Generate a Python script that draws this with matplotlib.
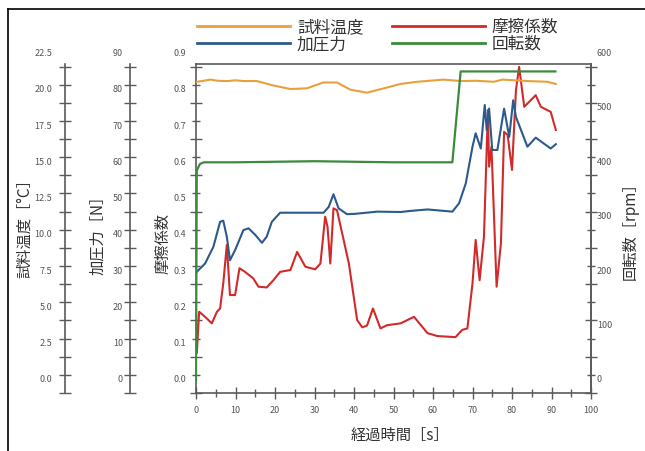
import numpy as np
import matplotlib
matplotlib.use("Agg")
import matplotlib.pyplot as plt
from matplotlib.lines import Line2D
import matplotlib.transforms as mtransforms

plt.rcParams['font.family'] = ['Noto Sans CJK JP', 'DejaVu Sans']

# ---- data ----
temp_t = [0.2, 1.5, 3.6, 5.5, 8, 10, 12, 15.4, 19.5, 23.9, 28.1, 32.2, 35.7, 39.1,
          43.3, 47.6, 51.8, 56, 62.7, 67, 71, 75.4, 77.6, 83.9, 89, 91.1]
temp_c = [20.55, 20.6, 20.7, 20.62, 20.6, 20.65, 20.6, 20.6, 20.3, 20.05, 20.1, 20.5, 20.5, 20.0,
          19.8, 20.1, 20.4, 20.55, 20.7, 20.6, 20.62, 20.55, 20.7, 20.6, 20.55, 20.4]

force_t = [0.2, 2.3, 4.4, 6.1, 6.9, 7.8, 8.6, 9.9, 12, 13.3, 15, 16.7, 17.9, 19.2, 21.3,
           32.3, 33.6, 34.8, 36.1, 38.2, 40.3, 45.9, 51.8, 54.3, 58.6, 64.9, 66.6, 68.3,
           70, 70.8, 72.1, 73.1, 73.6, 74.2, 75, 76.3, 78, 79.3, 80.3, 81, 83.9, 86, 89.8, 91.1]
force_n = [29.8, 32.1, 36.7, 43.6, 43.9, 39.5, 33.0, 35.8, 41.3, 41.8, 40.0, 37.8, 39.5, 43.6, 46.1,
           46.1, 47.7, 51.2, 47.3, 45.7, 45.8, 46.4, 46.3, 46.6, 47.0, 46.4, 48.7, 54.2,
           64.3, 68.0, 63.8, 75.8, 68.9, 74.8, 63.4, 63.4, 74.8, 67.0, 77.1, 72.5, 64.3, 66.8, 63.8, 65.0]

fric_t = [0.0, 0.2, 0.8, 2.3, 4.0, 5.3, 6.1, 6.9, 7.8, 8.6, 9.9, 11, 12.4, 14.5, 15.8, 17.9,
          19.6, 21.3, 23.9, 25.6, 27.7, 30.2, 31.5, 32.7, 33.3, 34.0, 34.8, 35.7, 38.7, 40.8,
          42.1, 43.3, 44.8, 46.7, 48.4, 51.8, 55.2, 58.6, 61.1, 65.7, 67.4, 68.7, 70, 70.8,
          71.8, 72.9, 73.9, 74.2, 74.8, 76.1, 77.2, 78, 78.9, 80, 81, 81.8, 83.1, 86, 87.3,
          89.8, 91.1]
fric_mu = [0.19, 0.074, 0.188, 0.174, 0.156, 0.188, 0.197, 0.266, 0.372, 0.234, 0.234, 0.308,
           0.298, 0.280, 0.257, 0.255, 0.275, 0.298, 0.303, 0.353, 0.312, 0.305, 0.321, 0.450,
           0.422, 0.321, 0.473, 0.468, 0.321, 0.165, 0.145, 0.150, 0.197, 0.142, 0.151, 0.156,
           0.174, 0.129, 0.121, 0.118, 0.138, 0.142, 0.266, 0.386, 0.275, 0.395, 0.744, 0.588,
           0.643, 0.257, 0.377, 0.684, 0.675, 0.579, 0.799, 0.863, 0.753, 0.785, 0.753, 0.739,
           0.689]

rpm_t = [0.0, 0.2, 1.0, 2.0, 10, 30, 50, 64.9, 67.0, 91.0]
rpm_v = [0, 385, 397, 400, 400, 402, 400, 400, 567, 567]

legend_labels = ['試料温度', '加圧力', '摩擦係数', '回転数']
c_temp, c_force, c_fric, c_rpm = '#E8A03C', '#2B5A8C', '#D22A2A', '#3C8A3C'
spine_c = '#5a5a5a'
tick_c = '#555555'

W, H = 645, 451
fig = plt.figure(figsize=(W / 100, H / 100), dpi=100)
ax = fig.add_axes([196 / W, 1 - 393 / H, 395 / W, 329 / H])

# friction scale; other axes share pixels: rpm = mu*666.7, temp = mu*25, force = mu*100
lo, hi = -0.036, 0.871
ax.set_xlim(0, 100)
ax.set_ylim(lo, hi)

ax_t = ax.twinx()
ax_f = ax.twinx()
ax_r = ax.twinx()
ax_t.set_ylim(lo * 25, hi * 25)
ax_f.set_ylim(lo * 100, hi * 100)
ax_r.set_ylim(lo * 600 / 0.9, hi * 600 / 0.9)

ax_t.plot(temp_t, temp_c, color=c_temp, lw=1.5)
ax_f.plot(force_t, force_n, color=c_force, lw=1.5)
ax.plot(fric_t, fric_mu, color=c_fric, lw=1.5)
ax_r.plot(rpm_t, rpm_v, color=c_rpm, lw=1.6)

# x axis
ax.set_xticks(np.arange(0, 101, 10))
ax.set_xticks(np.arange(5, 100, 10), minor=True)
ax.tick_params(axis='x', which='major', direction='inout', length=9, width=1, color=spine_c,
               labelsize=6.5, labelcolor=tick_c, pad=5)
ax.tick_params(axis='x', which='minor', direction='inout', length=6, width=1, color=spine_c)


def setup_y(a, side, base, step, pos=None, equal=False):
    for name, s in a.spines.items():
        s.set_visible(name == side)
    s = a.spines[side]
    if pos is not None:
        s.set_position(('axes', pos))
    a.yaxis.set_ticks_position(side)
    maj = [base + step * k for k in range(0, 19, 2)]
    mnr = [base + step * k for k in range(1, 19, 2)]
    a.set_yticks(maj)
    a.set_yticks(mnr, minor=True)
    a.set_yticklabels([])
    a.tick_params(axis='y', which='major', direction='inout', length=9, width=1, color=spine_c)
    a.tick_params(axis='y', which='minor', direction='inout', length=9 if equal else 6,
                  width=1, color=spine_c)


setup_y(ax, 'left', lo, 0.05)
setup_y(ax_r, 'right', lo * 600 / 0.9, 50 * 0.05 / 0.075)
setup_y(ax_t, 'left', lo * 25, 1.25, pos=(65 - 196) / 395, equal=True)
setup_y(ax_f, 'left', lo * 100, 5, pos=(130 - 196) / 395, equal=True)
for name in ('top', 'bottom', 'right', 'left'):
    ax.spines[name].set_visible(True)
for a in (ax, ax_t, ax_f, ax_r):
    for s in a.spines.values():
        s.set_color(spine_c)
        s.set_linewidth(1.2)


def label_ticks(a, values, fmt, xpos, ha):
    trans = mtransforms.blended_transform_factory(ax.transAxes, a.transData)
    for v in values:
        a.text(xpos, v, fmt.format(v), transform=trans, ha=ha, va='center',
               fontsize=6.5, color=tick_c, clip_on=False)


label_ticks(ax, np.arange(0, 0.91, 0.1), '{:.1f}', -0.025, 'right')
label_ticks(ax_t, np.arange(0, 22.6, 2.5), '{:.1f}', -0.364, 'right')
label_ticks(ax_f, np.arange(0, 91, 10), '{:.0f}', -0.185, 'right')
label_ticks(ax_r, np.arange(0, 601, 100), '{:.0f}', 1.015, 'left')

# axis titles
lab_kw = dict(fontsize=11, color='#333333', ha='center', va='center', rotation=90)
fig.text(25 / W, 1 - 225 / H, '試料温度［°C］', **lab_kw)
fig.text(98 / W, 1 - 231 / H, '加圧力［N］', **lab_kw)
fig.text(163 / W, 1 - 243 / H, '摩擦係数', **lab_kw)
fig.text(630 / W, 1 - 227 / H, '回転数［rpm］', **lab_kw)
fig.text(400 / W, 1 - 435 / H, '経過時間［s］', fontsize=11, color='#333333', ha='center', va='center')

# legend
handles = [Line2D([], [], color=c, lw=2) for c in (c_temp, c_force, c_fric, c_rpm)]
fig.legend(handles, legend_labels, ncol=2, loc='upper left', bbox_to_anchor=(197 / W, 1 - 19 / H),
           frameon=False, fontsize=12, handlelength=5.6, handletextpad=0.4, columnspacing=1.7,
           labelspacing=0.0, borderpad=0, borderaxespad=0, labelcolor='#333333')

# image border (left and top edges)
fig.add_artist(Line2D([8 / W, 8 / W], [0, 1 - 9 / H], color='black', lw=1.2, transform=fig.transFigure))
fig.add_artist(Line2D([8 / W, 1], [1 - 9 / H, 1 - 9 / H], color='black', lw=1.2, transform=fig.transFigure))

fig.savefig('out.png', dpi=100)
